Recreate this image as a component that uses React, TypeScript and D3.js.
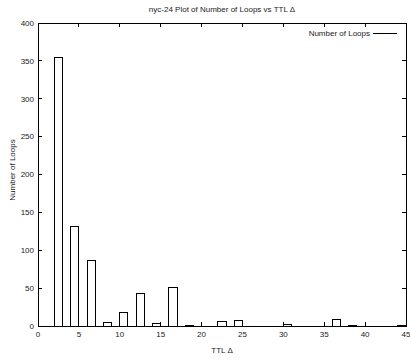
import React from "react";
import * as d3 from "d3";

const binStarts = [2, 4, 6, 8, 10, 12, 14, 16, 18, 22, 24, 30, 36, 38, 44];
const loopCounts = [355, 132, 86, 4, 18, 43, 3, 51, 1, 6, 7, 2, 9, 1, 1];
const xTicks = [0, 5, 10, 15, 20, 25, 30, 35, 40, 45];
const yTicks = [0, 50, 100, 150, 200, 250, 300, 350, 400];
const binWidth = 1;

const W = 410, H = 360;
const left = 38, right = 406, top = 23, bottom = 326;

export default function App() {
  const x = d3.scaleLinear().domain([0, 45]).range([left, right]);
  const y = d3.scaleLinear().domain([0, 400]).range([bottom, top]);
  const font = "'Liberation Sans', Arial, Helvetica, sans-serif";
  const tick = 4;
  return (
    <svg width={W} height={H} style={{ position: "absolute", left: 0, top: 0, background: "#fff" }}
      fontFamily={font} fontSize={8} fill="#222">
      <rect x={0} y={0} width={W} height={H} fill="#fff" />
      <text x={(left + right) / 2} y={12} textAnchor="middle">nyc-24 Plot of Number of Loops vs TTL Δ</text>
      <g shapeRendering="crispEdges" stroke="#000" strokeWidth={1}>
        {binStarts.map((b, i) => (
          <rect key={i} x={x(b)} y={y(loopCounts[i])} width={x(b + binWidth) - x(b)}
            height={y(0) - y(loopCounts[i])} fill="#fff" />
        ))}
        {xTicks.map((t) => (
          <g key={"xt" + t}>
            <line x1={x(t)} x2={x(t)} y1={bottom} y2={bottom - tick} />
            <line x1={x(t)} x2={x(t)} y1={top} y2={top + tick} />
          </g>
        ))}
        {yTicks.map((t) => (
          <g key={"yt" + t}>
            <line x1={left} x2={left + tick} y1={y(t)} y2={y(t)} />
            <line x1={right} x2={right - tick} y1={y(t)} y2={y(t)} />
          </g>
        ))}
        <rect x={left} y={top} width={right - left} height={bottom - top} fill="none" />
        <line x1={373} x2={397} y1={33} y2={33} />
      </g>
      {xTicks.map((t) => (
        <text key={"xl" + t} x={x(t)} y={337} textAnchor="middle">{t}</text>
      ))}
      {yTicks.map((t) => (
        <text key={"yl" + t} x={34} y={y(t)} dy="0.35em" textAnchor="end">{t}</text>
      ))}
      <text x={370} y={33} dy="0.35em" textAnchor="end">Number of Loops</text>
      <text x={(left + right) / 2} y={353} textAnchor="middle">TTL Δ</text>
      <text transform={`translate(15,170) rotate(-90)`} textAnchor="middle">Number of Loops</text>
    </svg>
  );
}
